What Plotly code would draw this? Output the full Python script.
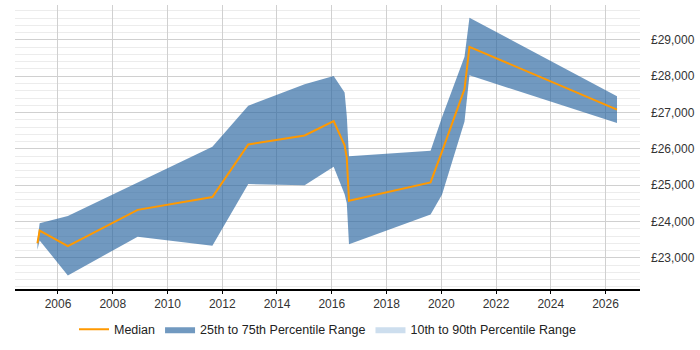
import plotly.graph_objects as go

years = [2005.25, 2005.33, 2006.36, 2008.91, 2011.64, 2012.95, 2015.01, 2016.07,
         2016.47, 2016.55, 2016.63, 2019.61, 2020.03, 2020.85, 2021.03, 2026.42]
median = [23400, 23750, 23320, 24320, 24675, 26120, 26370, 26765,
          26100, 25750, 24570, 25075, 25930, 27645, 28810, 27080]
p25 = [23220, 23480, 22515, 23580, 23330, 25030, 24995, 25510,
       24750, 24500, 23375, 24195, 24740, 26755, 28025, 26710]
p75 = [23480, 23950, 24150, 25070, 26055, 27190, 27780, 28010,
       27550, 26900, 25795, 25945, 26875, 28535, 29610, 27450]

y_ticks = [23000, 24000, 25000, 26000, 27000, 28000, 29000]
y_labels = ["£23,000", "£24,000", "£25,000", "£26,000", "£27,000", "£28,000", "£29,000"]
x_ticks = [2006, 2008, 2010, 2012, 2014, 2016, 2018, 2020, 2022, 2024, 2026]

fig = go.Figure()

fig.add_trace(go.Scatter(
    x=years + years[::-1], y=p75 + p25[::-1],
    fill="toself", mode="lines", line=dict(width=0),
    fillcolor="rgba(40,100,160,0.66)", legendrank=2,
    name="25th to 75th Percentile Range", hoverinfo="skip"))

fig.add_trace(go.Scatter(
    x=[None], y=[None], fill="toself", mode="lines", line=dict(width=0),
    fillcolor="rgba(205,222,238,1)", legendrank=3,
    name="10th to 90th Percentile Range"))

fig.add_trace(go.Scatter(
    x=years, y=median, mode="lines",
    line=dict(color="#FF9900", width=2), legendrank=1,
    name="Median"))

fig.update_layout(
    width=700, height=350,
    margin=dict(l=15, r=58, t=5, b=58),
    paper_bgcolor="white", plot_bgcolor="white",
    font=dict(family="Liberation Sans, Arial, sans-serif", size=12, color="#333"),
    showlegend=True,
    legend=dict(orientation="h", x=0.5, xanchor="center", y=-0.143, yanchor="middle",
                traceorder="normal", font=dict(size=12.5, color="#222"),
                itemwidth=30),
)

fig.update_xaxes(
    range=[2004.43, 2027.26],
    tickvals=x_ticks, ticktext=[str(v) for v in x_ticks],
    showgrid=True, gridcolor="#d0d0d0", gridwidth=1,
    showline=True, linecolor="black", linewidth=1.5,
    ticks="outside", ticklen=3, tickcolor="black",
    zeroline=False,
)

fig.update_yaxes(
    range=[22141, 29962], side="right",
    tickvals=y_ticks, ticktext=y_labels,
    showgrid=True, gridcolor="#d0d0d0", gridwidth=1,
    minor=dict(dtick=200, tick0=0, showgrid=True, gridcolor="#ececec", gridwidth=1),
    showline=False, zeroline=False, ticks="", ticklabelstandoff=10,
)

fig.write_html("out.html")
